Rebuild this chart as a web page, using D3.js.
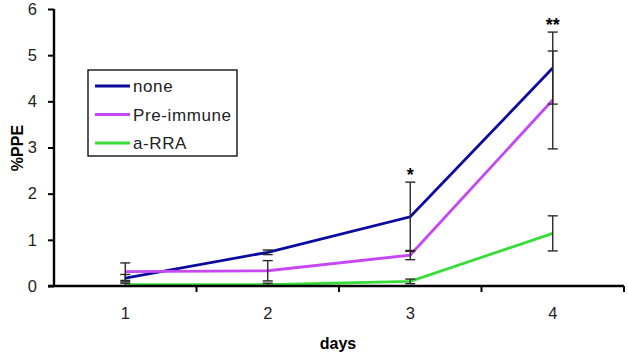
<!DOCTYPE html>
<html>
<head>
<meta charset="utf-8">
<script src="https://cdn.jsdelivr.net/npm/d3@7"></script>
<style>
  body { margin: 0; background: #fff; }
  svg text { font-family: "Liberation Sans", Arial, sans-serif; }
</style>
</head>
<body>
<svg id="chart" width="628" height="355"></svg>
<script>
const days = ['1', '2', '3', '4']
const yTicks = [0, 1, 2, 3, 4, 5, 6]

const seriesNames = ['none', 'Pre-immune', 'a-RRA']
const seriesColors = ['#0a0a9e', '#c548f2', '#38dc38']
const noneValues = [0.17, 0.73, 1.50, 4.72]
const preImmuneValues = [0.31, 0.33, 0.67, 4.03]
const aRraValues = [0.03, 0.03, 0.10, 1.14]
const noneErr = [0.08, 0.05, 0.75, 0.78]
const preImmuneErr = [0.19, 0.22, 0.10, 1.06]
const aRraErr = [0.03, 0.03, 0.05, 0.38]
const stars = ['', '', '*', '**']

const svg = d3.select('#chart')
const gridLeft = 54, gridRight = 624, gridTop = 9, gridBottom = 286

const x = d3.scaleBand().domain(days).range([gridLeft, gridRight])
const y = d3.scaleLinear().domain([0, 6]).range([gridBottom, gridTop])

const series = [
  { name: seriesNames[0], color: seriesColors[0], values: noneValues, err: noneErr },
  { name: seriesNames[1], color: seriesColors[1], values: preImmuneValues, err: preImmuneErr },
  { name: seriesNames[2], color: seriesColors[2], values: aRraValues, err: aRraErr },
]

// lines
const line = d3.line()
  .x((d, i) => x(days[i]) + x.bandwidth() / 2)
  .y(d => y(d))

series.forEach(s => {
  svg.append('path')
    .attr('d', line(s.values))
    .attr('fill', 'none')
    .attr('stroke', s.color)
    .attr('stroke-width', 2.8)
})

// error bars
const errG = svg.append('g').attr('stroke', '#2a2a2a').attr('stroke-width', 1.4)
series.forEach(s => {
  s.values.forEach((v, i) => {
    let cx = x(days[i]) + x.bandwidth() / 2
    let y1 = y(v + s.err[i]), y2 = y(Math.max(0, v - s.err[i]))
    errG.append('line').attr('x1', cx).attr('x2', cx).attr('y1', y1).attr('y2', y2)
    errG.append('line').attr('x1', cx - 5).attr('x2', cx + 5).attr('y1', y1).attr('y2', y1)
    errG.append('line').attr('x1', cx - 5).attr('x2', cx + 5).attr('y1', y2).attr('y2', y2)
  })
})

// significance stars
stars.forEach((st, i) => {
  if (!st) return
  let topVal = d3.max(series, s => s.values[i] + s.err[i])
  svg.append('text')
    .attr('x', x(days[i]) + x.bandwidth() / 2)
    .attr('y', y(topVal) - 1)
    .attr('text-anchor', 'middle')
    .attr('font-size', 18)
    .attr('font-weight', 'bold')
    .text(st)
})

// axes
const yAxis = svg.append('g')
  .attr('transform', `translate(${gridLeft},0)`)
  .call(d3.axisLeft(y).tickValues(yTicks).tickSize(6).tickPadding(11).tickFormat(d3.format('d')))
yAxis.select('.domain').attr('stroke-width', 2.4).attr('d', `M0,${gridTop}V${gridBottom}`)
yAxis.selectAll('.tick line').attr('stroke-width', 2)
yAxis.selectAll('text').attr('font-size', 16.5).attr('fill', '#222')

const xAxis = svg.append('g')
  .attr('transform', `translate(0,${gridBottom})`)
  .call(d3.axisBottom(x).tickSize(0).tickPadding(21))
xAxis.select('.domain').attr('stroke-width', 2.4).attr('d', `M${gridLeft - 6},0H${gridRight}`)
xAxis.selectAll('text').attr('font-size', 16.5).attr('fill', '#222')

// boundary ticks between categories
const tickG = svg.append('g').attr('stroke', '#000').attr('stroke-width', 2)
days.forEach((d, i) => {
  if (i === 0) return
  tickG.append('line').attr('x1', x(d)).attr('x2', x(d)).attr('y1', gridBottom).attr('y2', gridBottom + 6)
})
tickG.append('line').attr('x1', gridRight).attr('x2', gridRight).attr('y1', gridBottom).attr('y2', gridBottom + 6)

// axis titles
svg.append('text')
  .attr('x', 338).attr('y', 349)
  .attr('text-anchor', 'middle')
  .attr('font-size', 16).attr('font-weight', 'bold')
  .text('days')

svg.append('text')
  .attr('transform', 'translate(23,148) rotate(-90)')
  .attr('text-anchor', 'middle')
  .attr('font-size', 16).attr('font-weight', 'bold')
  .text('%PPE')

// legend
const legend = svg.append('g').attr('transform', 'translate(88,70)')
legend.append('rect')
  .attr('width', 149).attr('height', 86)
  .attr('fill', '#fff').attr('stroke', '#000').attr('stroke-width', 1.3)
series.forEach((s, i) => {
  let ly = 16 + i * 28.5
  legend.append('line')
    .attr('x1', 7).attr('x2', 42).attr('y1', ly).attr('y2', ly)
    .attr('stroke', s.color).attr('stroke-width', 2.8)
  legend.append('text')
    .attr('x', 45).attr('y', ly + 6)
    .attr('font-size', 17).attr('letter-spacing', 0.6).attr('fill', '#222')
    .text(s.name)
})
</script>
</body>
</html>
